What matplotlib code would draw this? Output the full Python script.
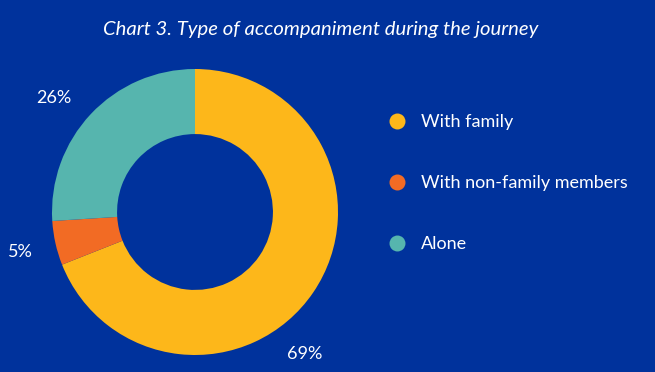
import matplotlib
matplotlib.use("Agg")
import matplotlib.pyplot as plt
from matplotlib.lines import Line2D

categories = ["With family", "With non-family members", "Alone"]
values = [69, 5, 26]
labels = ["69%", "5%", "26%"]
colors = ["#FDB71A", "#F26B24", "#56B5AE"]
bg = "#00329C"

plt.rcParams['font.family'] = ['Lato', 'DejaVu Sans']

W, H = 655, 372
fig = plt.figure(figsize=(W / 100, H / 100), dpi=100, facecolor=bg)
ax = fig.add_axes([0, 0, 1, 1])
ax.set_facecolor(bg)

cx, cy, R = 195, 212, 143

wedges, _ = ax.pie(values, colors=colors, startangle=90, counterclock=False,
                   radius=1.0, wedgeprops=dict(width=0.455, linewidth=0),
                   center=(0, 0), frame=True)
ax.axis('off')
ax.set_xlim(-cx / R, (W - cx) / R)
ax.set_ylim(-(H - cy) / R, cy / R)
ax.set_aspect('auto')

# label positions (data units, radius 1 = outer ring)
label_pos = [(0.77, -0.99), (-1.22, -0.28), (-0.99, 0.80)]
for (x, y), t in zip(label_pos, labels):
    ax.text(x, y, t, color="white", fontsize=13, ha="center", va="center")

fig.text(321 / W, 1 - 30 / H, "Chart 3. Type of accompaniment during the journey",
         color="white", fontsize=14.6, style="italic", ha="center", va="center")

handles = [Line2D([], [], marker='o', linestyle='none', markersize=11.5,
                  markerfacecolor=c, markeredgewidth=0) for c in colors]
leg = fig.legend(handles, categories, loc="upper left",
                 bbox_to_anchor=(388 / W, 1 - 114 / H), frameon=False,
                 fontsize=13, labelcolor="white",
                 handlelength=1.0, handletextpad=0.83, labelspacing=2.49,
                 borderpad=0, borderaxespad=0)

fig.savefig("out.png", dpi=100, facecolor=bg)
